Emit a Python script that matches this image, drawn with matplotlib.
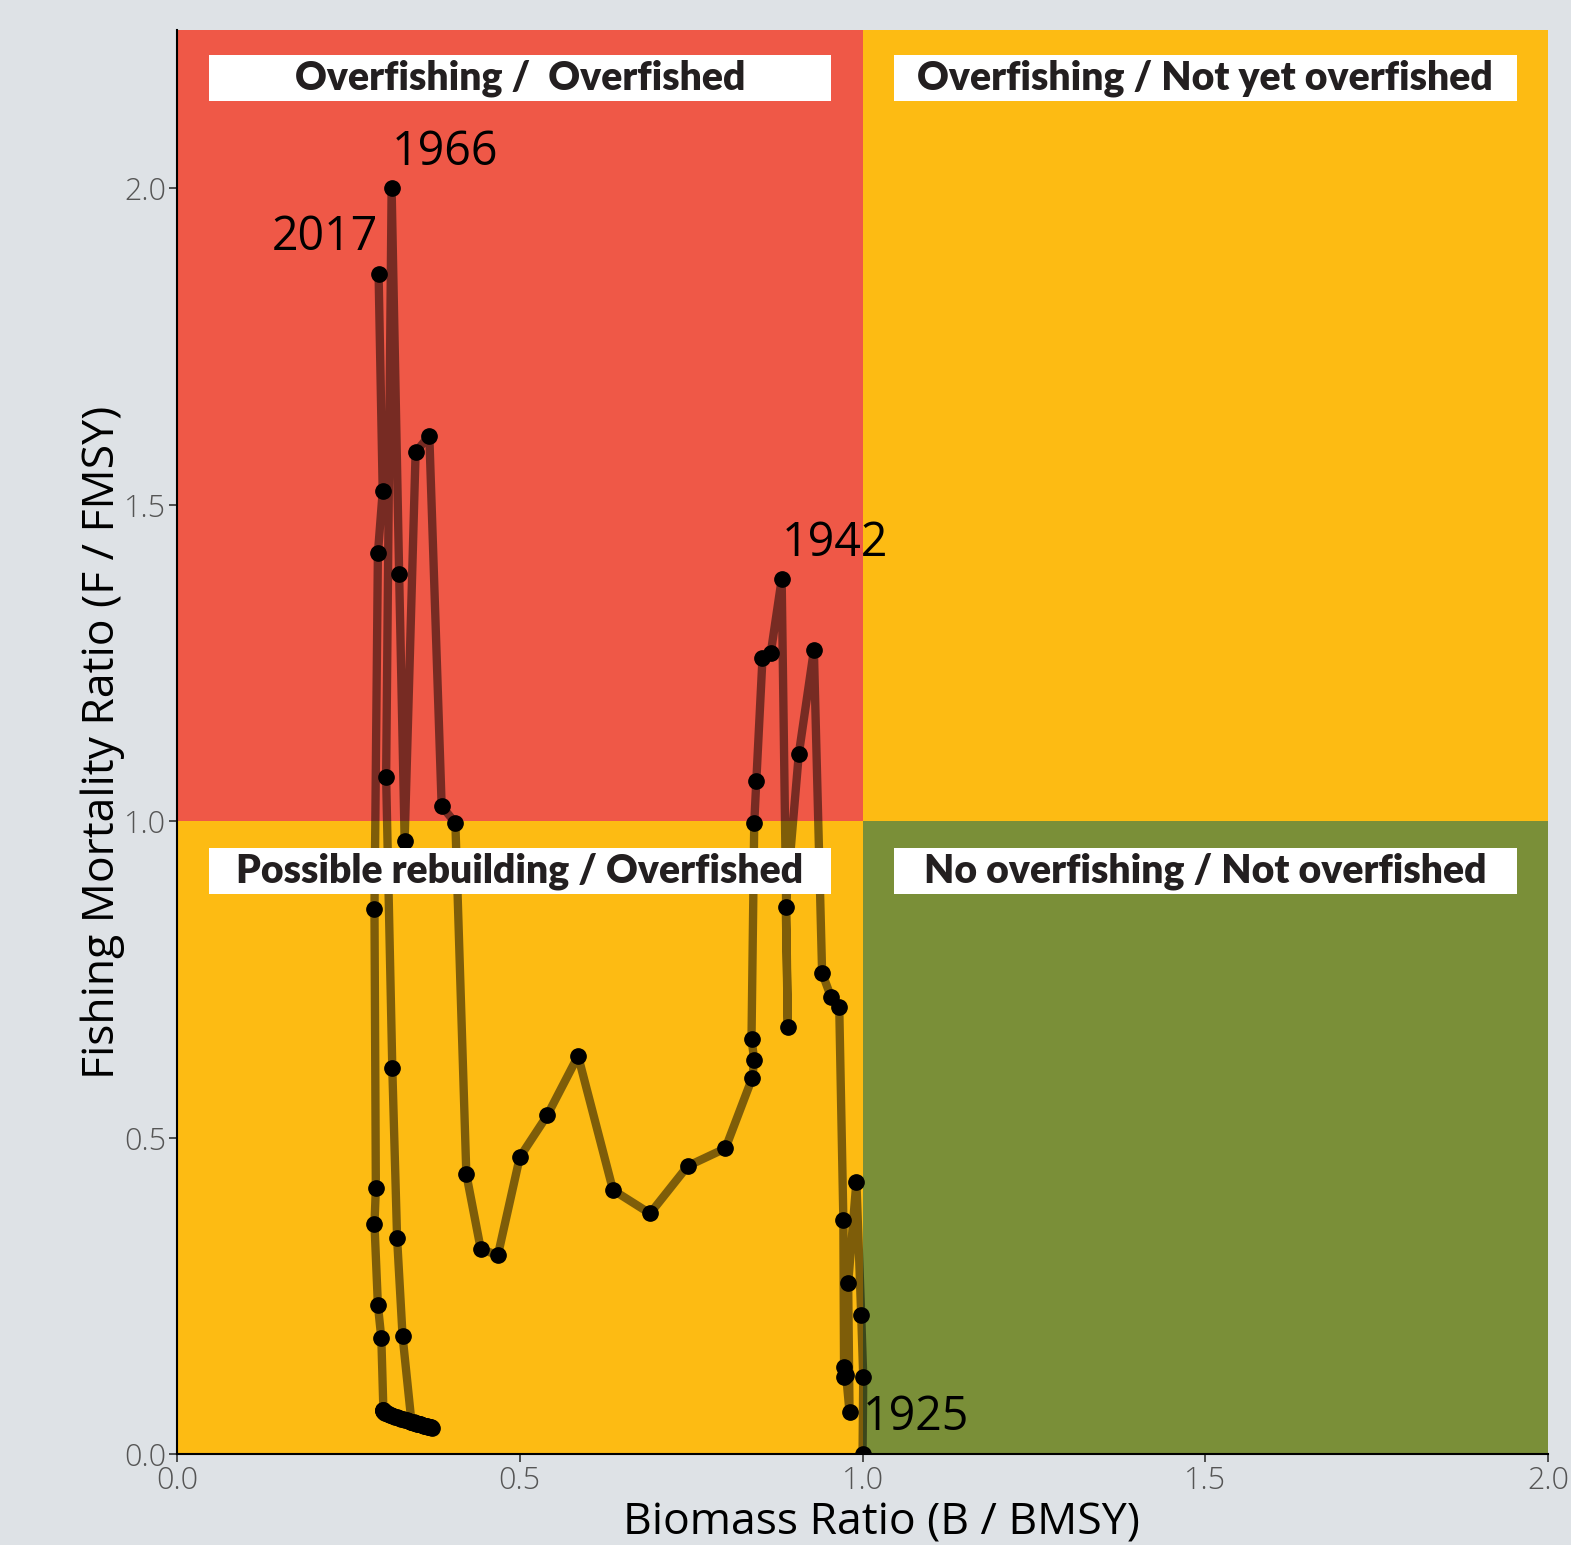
import matplotlib
matplotlib.use('Agg')
import matplotlib.pyplot as plt
from matplotlib.patches import Rectangle

# trajectory, 1925 -> 2017
years = list(range(1925, 2018))
b_ratio = [
    1.000, 1.001, 0.998, 0.991, 0.979, 0.981, 0.976, 0.973, 0.973, 0.972,
    0.966, 0.954, 0.941, 0.929, 0.907, 0.888, 0.891,
    0.882, 0.866, 0.854, 0.845, 0.842, 0.838, 0.842, 0.839, 0.800, 0.745,
    0.690, 0.636, 0.585, 0.540, 0.500, 0.468, 0.443, 0.422, 0.406, 0.386,
    0.368, 0.348, 0.332, 0.324,
    0.313, 0.305, 0.314, 0.321, 0.329,
    0.342, 0.346, 0.350, 0.354, 0.358, 0.361, 0.364, 0.367, 0.370, 0.372,
    0.369, 0.366, 0.363, 0.360, 0.357, 0.354, 0.351, 0.348, 0.345, 0.342,
    0.339, 0.336, 0.333, 0.330, 0.327, 0.324, 0.321, 0.318, 0.315, 0.312,
    0.310, 0.308, 0.306, 0.304, 0.303, 0.302, 0.301, 0.300, 0.301,
    0.298, 0.293, 0.288, 0.290, 0.288, 0.293, 0.300, 0.294,
]
f_ratio = [
    0.000, 0.122, 0.220, 0.430, 0.270, 0.066, 0.125, 0.122, 0.138, 0.370,
    0.706, 0.722, 0.760, 1.270, 1.106, 0.864, 0.675,
    1.382, 1.265, 1.257, 1.063, 0.997, 0.656, 0.622, 0.594, 0.483, 0.455,
    0.380, 0.417, 0.629, 0.535, 0.469, 0.314, 0.324, 0.442, 0.997, 1.024,
    1.609, 1.583, 0.969, 1.390,
    2.000, 1.070, 0.610, 0.341, 0.186,
    0.050, 0.049, 0.048, 0.047, 0.046, 0.045, 0.044, 0.043, 0.042, 0.041,
    0.042, 0.043, 0.044, 0.045, 0.046, 0.047, 0.048, 0.049, 0.050, 0.051,
    0.052, 0.053, 0.054, 0.055, 0.056, 0.057, 0.058, 0.059, 0.060, 0.061,
    0.062, 0.063, 0.064, 0.065, 0.066, 0.067, 0.068, 0.069, 0.070,
    0.183, 0.235, 0.363, 0.420, 0.861, 1.423, 1.521, 1.865,
]

label_years = [1925, 1942, 1966, 2017]
label_align = ['left', 'left', 'left', 'right']

quadrants = [
    # x0, y0, width, height, colour
    (0, 1, 1, 1.25, '#EF5847'),
    (1, 1, 1, 1.25, '#FDBB13'),
    (0, 0, 1, 1, '#FDBB13'),
    (1, 0, 1, 1, '#7A8F38'),
]
quad_labels = ['Overfishing /  Overfished', 'Overfishing / Not yet overfished',
               'Possible rebuilding / Overfished', 'No overfishing / Not overfished']
quad_label_pos = [(0.5, 2.173), (1.5, 2.173), (0.5, 0.921), (1.5, 0.921)]

bg = '#DEE2E6'
fig = plt.figure(figsize=(15.71, 15.45), dpi=100, facecolor=bg)
ax = fig.add_axes([0.1127, 0.0589, 0.8727, 0.9217])
ax.set_facecolor(bg)

for x0, y0, w, h, c in quadrants:
    ax.add_patch(Rectangle((x0, y0), w, h, color=c, lw=0, zorder=0))

# the label boxes sit on top of the trajectory
for text, (cx, cy) in zip(quad_labels, quad_label_pos):
    ax.add_patch(Rectangle((cx - 0.454, cy - 0.036), 0.908, 0.073,
                           color='white', lw=0, zorder=6))
    ax.text(cx, cy, text, ha='center', va='center', fontsize=28.2,
            fontweight='heavy', family='Lato', color='#231F20', zorder=7)

ax.plot(b_ratio, f_ratio, color='black', alpha=0.5, lw=6,
        solid_joinstyle='round', zorder=3)
ax.plot(b_ratio, f_ratio, ls='none', marker='o', ms=11, color='black', zorder=4)

for yr, ha in zip(label_years, label_align):
    i = years.index(yr)
    ax.text(b_ratio[i], f_ratio[i] + 0.02, str(yr), ha=ha, va='bottom',
            fontsize=33.5, family='Open Sans', color='black', zorder=5)

ax.set_xlim(0, 2)
ax.set_ylim(0, 2.25)
ax.set_xticks([0, 0.5, 1.0, 1.5, 2.0])
ax.set_yticks([0, 0.5, 1.0, 1.5, 2.0])
ax.xaxis.set_major_formatter(matplotlib.ticker.FormatStrFormatter('%.1f'))
ax.yaxis.set_major_formatter(matplotlib.ticker.FormatStrFormatter('%.1f'))
ax.tick_params(length=6, width=1.2, color='#333333', labelcolor='#555555',
               labelsize=22, pad=2)
for lab in ax.get_xticklabels() + ax.get_yticklabels():
    lab.set_family('Open Sans')
    lab.set_fontweight('light')

for s in ['top', 'right']:
    ax.spines[s].set_visible(False)
for s in ['left', 'bottom']:
    ax.spines[s].set_linewidth(1.5)
    ax.spines[s].set_color('black')

ax.set_xlabel('Biomass Ratio (B / BMSY)', fontsize=32, family='Open Sans', labelpad=3)
ax.xaxis.label.set_x(0.514)
ax.set_ylabel('Fishing Mortality Ratio (F / FMSY)', fontsize=32, family='Open Sans',
              labelpad=-1)

fig.savefig('out.png', dpi=100, facecolor=bg)
